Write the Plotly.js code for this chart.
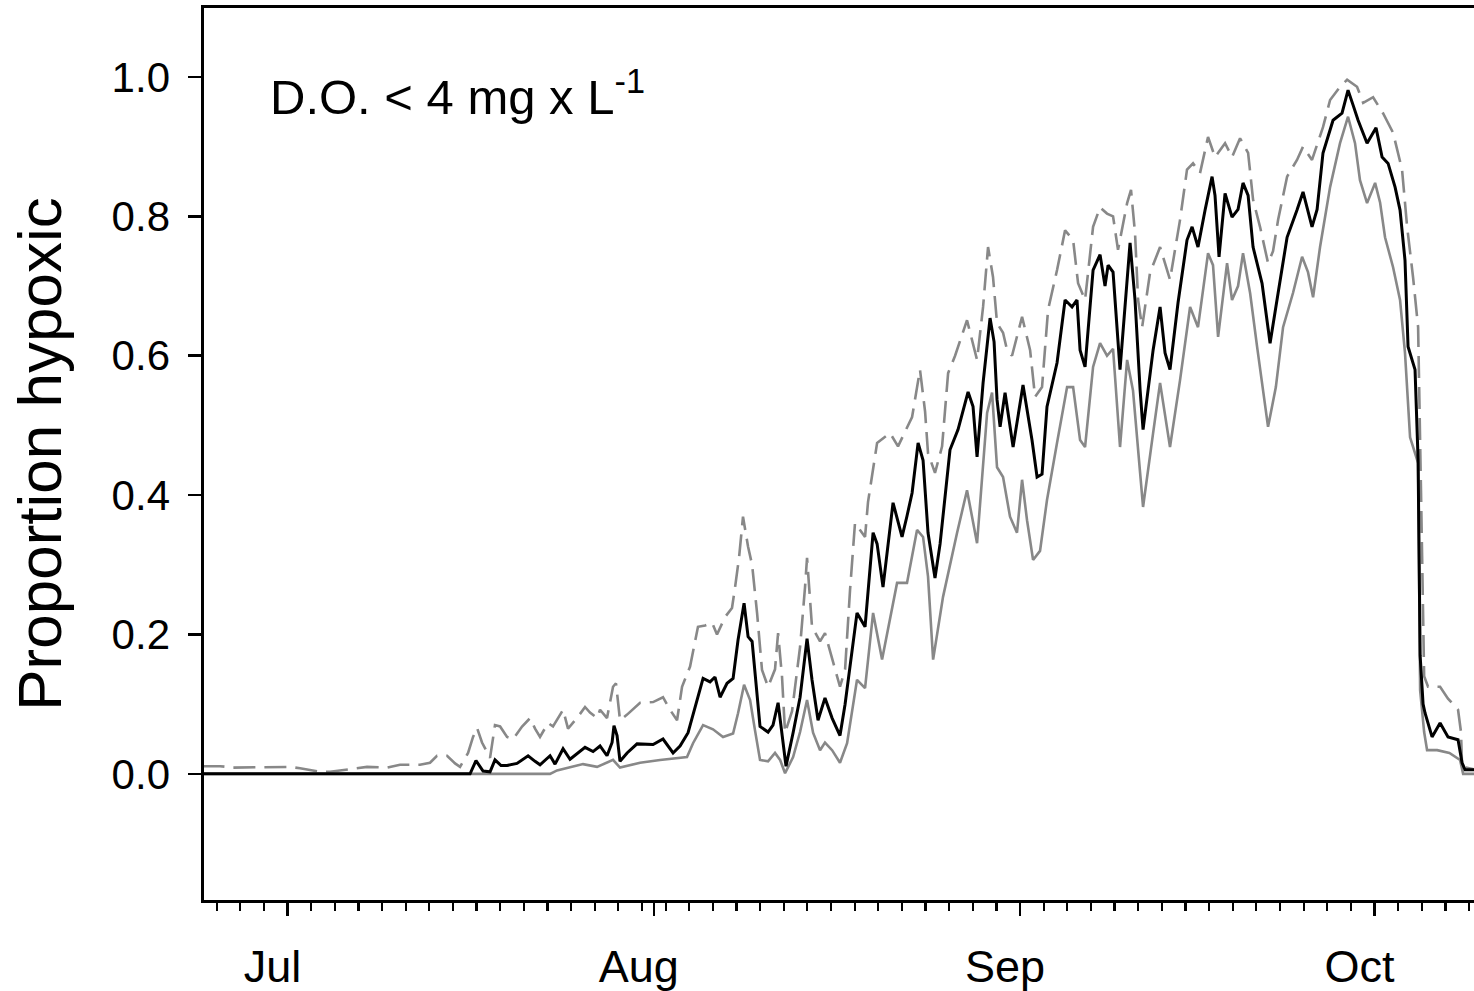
<!DOCTYPE html>
<html>
<head>
<meta charset="utf-8">
<script src="https://cdn.plot.ly/plotly-3.0.1.min.js"></script>
<style>html,body{margin:0;padding:0;background:#fff;}#chart{width:1474px;height:991px;}</style>
</head>
<body>
<div id="chart"></div>
<script>
// Days since 1 July (x) and proportion of sites hypoxic (y)
const monthDays = [0, 31, 62, 92];
const monthLabels = ['Jul', 'Aug', 'Sep', 'Oct'];
const yTicks = [0, 0.2, 0.4, 0.6, 0.8, 1.0];

const meanDay = [-7.2, 15.45, 15.95, 16.55, 17.14, 17.56, 18.07, 18.58, 19.42, 20.36, 20.95, 21.37, 22.22, 22.64, 23.32, 23.91, 25.18, 25.86, 26.45, 27.04, 27.47, 27.63, 27.89, 28.14, 28.74, 29.58, 30.94, 31.78, 32.63, 33.22, 33.9, 34.49, 35.17, 35.76, 36.18, 36.61, 37.2, 37.71, 38.13, 38.64, 38.98, 39.32, 39.99, 40.67, 41.09, 41.52, 41.85, 42.19, 42.79, 43.38, 43.97, 44.39, 44.9, 45.49, 46.09, 46.76, 47.19, 48.2, 48.88, 49.56, 49.9, 50.4, 51.25, 52.01, 52.43, 52.86, 53.37, 53.79, 54.21, 54.8, 55.23, 56.07, 56.75, 57.6, 58.02, 58.36, 58.87, 59.46, 59.8, 60.05, 60.31, 60.73, 61.41, 62.25, 63.01, 63.44, 63.86, 64.28, 65.13, 65.81, 66.4, 66.82, 67.08, 67.5, 68.18, 68.77, 69.19, 69.45, 69.87, 70.46, 71.31, 71.73, 72.16, 72.41, 73.26, 73.85, 74.27, 74.69, 75.37, 76.13, 76.56, 77.06, 77.66, 78.25, 78.5, 78.84, 79.35, 79.94, 80.45, 80.87, 81.3, 81.72, 82.48, 83.16, 83.84, 84.6, 85.44, 85.95, 86.71, 87.14, 87.64, 88.49, 89.25, 89.76, 90.18, 90.61, 91.37, 92.13, 92.64, 93.15, 93.74, 94.16, 94.58, 94.84, 95.43, 95.69, 95.86, 96.11, 96.28, 96.87, 97.55, 98.22, 99.07, 99.41, 99.66, 100.6];
const meanProp = [0, 0, 0.019, 0.004, 0.003, 0.02, 0.012, 0.012, 0.015, 0.026, 0.018, 0.013, 0.026, 0.014, 0.036, 0.021, 0.038, 0.032, 0.04, 0.026, 0.045, 0.069, 0.055, 0.018, 0.03, 0.043, 0.042, 0.05, 0.03, 0.04, 0.059, 0.096, 0.137, 0.132, 0.139, 0.11, 0.13, 0.137, 0.192, 0.245, 0.197, 0.19, 0.068, 0.06, 0.07, 0.102, 0.06, 0.011, 0.059, 0.11, 0.194, 0.135, 0.077, 0.109, 0.08, 0.055, 0.1, 0.231, 0.211, 0.346, 0.33, 0.268, 0.389, 0.34, 0.37, 0.403, 0.475, 0.45, 0.346, 0.281, 0.33, 0.465, 0.494, 0.548, 0.527, 0.455, 0.561, 0.654, 0.62, 0.537, 0.498, 0.547, 0.469, 0.558, 0.479, 0.426, 0.43, 0.527, 0.59, 0.68, 0.67, 0.68, 0.608, 0.584, 0.723, 0.745, 0.7, 0.73, 0.72, 0.58, 0.762, 0.68, 0.551, 0.494, 0.608, 0.67, 0.604, 0.58, 0.676, 0.766, 0.785, 0.756, 0.809, 0.857, 0.83, 0.742, 0.833, 0.799, 0.81, 0.848, 0.83, 0.756, 0.704, 0.618, 0.69, 0.77, 0.809, 0.835, 0.785, 0.81, 0.891, 0.938, 0.948, 0.981, 0.96, 0.938, 0.905, 0.927, 0.885, 0.876, 0.842, 0.809, 0.737, 0.613, 0.58, 0.45, 0.17, 0.1, 0.087, 0.053, 0.073, 0.053, 0.049, 0.016, 0.006, 0.006];

const lowerDay = [-7.2, 22.22, 22.81, 25.01, 26.2, 27.55, 28.14, 29.84, 31.53, 32.63, 33.81, 34.32, 35.17, 36.01, 36.86, 37.71, 38.13, 38.64, 39.15, 39.57, 39.99, 40.67, 41.26, 41.69, 42.11, 42.79, 43.38, 43.97, 44.48, 45.07, 45.49, 46.09, 46.76, 47.36, 48.2, 48.88, 49.56, 50.32, 51.0, 51.59, 52.43, 53.28, 53.79, 54.21, 54.64, 55.48, 56.67, 57.51, 58.36, 59.21, 59.63, 60.05, 60.56, 61.15, 61.74, 62.17, 62.59, 63.1, 63.69, 64.28, 65.13, 65.98, 66.49, 67.08, 67.5, 68.18, 68.77, 69.36, 69.87, 70.46, 71.06, 71.56, 72.16, 72.41, 73.26, 73.85, 74.69, 75.54, 76.39, 77.06, 77.91, 78.33, 78.76, 79.52, 79.94, 80.45, 80.87, 81.47, 82.06, 82.57, 82.99, 83.65, 84.26, 85.1, 85.87, 86.37, 86.8, 87.39, 88.24, 89.08, 89.76, 90.35, 90.77, 91.37, 92.05, 92.47, 92.89, 93.57, 94.16, 94.58, 95.01, 95.69, 95.86, 96.2, 96.45, 97.3, 98.34, 99.24, 99.5, 100.6];
const lowerProp = [0, 0, 0.005, 0.014, 0.01, 0.02, 0.009, 0.016, 0.02, 0.022, 0.024, 0.044, 0.07, 0.064, 0.053, 0.058, 0.087, 0.128, 0.106, 0.062, 0.02, 0.018, 0.03, 0.02, 0.001, 0.024, 0.06, 0.106, 0.059, 0.034, 0.045, 0.034, 0.016, 0.044, 0.135, 0.123, 0.231, 0.164, 0.221, 0.274, 0.274, 0.35, 0.34, 0.283, 0.164, 0.254, 0.346, 0.407, 0.331, 0.518, 0.547, 0.44, 0.426, 0.369, 0.346, 0.422, 0.364, 0.307, 0.32, 0.393, 0.475, 0.555, 0.555, 0.479, 0.469, 0.584, 0.618, 0.6, 0.61, 0.469, 0.594, 0.55, 0.432, 0.383, 0.489, 0.561, 0.469, 0.565, 0.67, 0.641, 0.747, 0.73, 0.627, 0.733, 0.68, 0.7, 0.747, 0.69, 0.613, 0.547, 0.498, 0.555, 0.641, 0.69, 0.742, 0.72, 0.684, 0.756, 0.842, 0.905, 0.943, 0.905, 0.852, 0.819, 0.848, 0.82, 0.77, 0.727, 0.68, 0.604, 0.483, 0.446, 0.12, 0.06, 0.034, 0.034, 0.03, 0.02, 0.0, 0.0];

const upperDay = [-7.2, -5.71, -4.61, -2.58, -1.74, 0.21, 1.06, 2.75, 3.6, 4.87, 6.14, 6.73, 8.42, 9.52, 11.21, 12.06, 12.65, 13.5, 14.18, 14.6, 15.28, 15.7, 16.04, 16.46, 17.14, 17.56, 17.99, 18.58, 19.09, 19.85, 20.53, 20.95, 21.37, 22.05, 22.47, 23.32, 23.74, 24.5, 25.18, 25.6, 26.2, 26.45, 27.04, 27.55, 27.8, 28.14, 28.74, 29.84, 30.94, 31.78, 32.37, 32.97, 33.39, 34.07, 34.74, 35.34, 35.93, 36.35, 37.03, 37.62, 37.88, 38.22, 38.55, 38.98, 39.32, 39.74, 40.16, 40.67, 41.26, 41.52, 41.85, 42.11, 42.7, 43.38, 43.8, 43.97, 44.39, 45.07, 45.49, 46.09, 46.76, 47.19, 47.61, 48.03, 48.88, 49.13, 49.9, 51.0, 51.67, 52.86, 53.53, 53.96, 54.21, 54.8, 55.4, 55.91, 56.5, 57.51, 57.94, 58.36, 58.87, 59.29, 59.71, 60.05, 60.56, 60.9, 61.32, 62.17, 62.85, 63.27, 63.86, 64.37, 65.13, 65.81, 66.49, 66.91, 67.5, 68.18, 68.77, 69.36, 69.87, 70.29, 71.06, 71.39, 71.73, 71.99, 72.33, 73.0, 73.85, 74.69, 75.54, 76.13, 76.64, 77.23, 77.91, 78.5, 79.35, 79.94, 80.62, 81.3, 81.72, 82.31, 82.99, 83.41, 83.84, 84.6, 85.44, 85.95, 86.71, 87.64, 88.24, 89.08, 89.68, 90.52, 91.04, 91.88, 92.72, 93.57, 94.33, 94.76, 95.26, 95.69, 95.94, 96.2, 96.53, 97.55, 98.22, 99.07, 99.32, 99.41, 100.6];
const upperProp = [0.011, 0.011, 0.009, 0.009, 0.01, 0.01, 0.008, 0.003, 0.003, 0.006, 0.008, 0.01, 0.009, 0.013, 0.013, 0.016, 0.026, 0.026, 0.015, 0.01, 0.03, 0.053, 0.066, 0.045, 0.023, 0.07, 0.068, 0.053, 0.05, 0.068, 0.08, 0.065, 0.053, 0.073, 0.068, 0.092, 0.065, 0.08, 0.096, 0.088, 0.08, 0.092, 0.08, 0.125, 0.13, 0.077, 0.085, 0.102, 0.103, 0.11, 0.092, 0.077, 0.125, 0.154, 0.211, 0.213, 0.217, 0.2, 0.225, 0.238, 0.268, 0.311, 0.369, 0.326, 0.3, 0.231, 0.149, 0.125, 0.15, 0.202, 0.14, 0.059, 0.09, 0.182, 0.268, 0.31, 0.211, 0.19, 0.202, 0.165, 0.125, 0.15, 0.264, 0.36, 0.34, 0.39, 0.475, 0.489, 0.47, 0.512, 0.58, 0.52, 0.46, 0.432, 0.47, 0.575, 0.6, 0.651, 0.623, 0.594, 0.67, 0.756, 0.713, 0.647, 0.633, 0.608, 0.6, 0.656, 0.608, 0.541, 0.555, 0.666, 0.723, 0.78, 0.766, 0.704, 0.68, 0.785, 0.813, 0.804, 0.8, 0.752, 0.819, 0.838, 0.776, 0.68, 0.641, 0.719, 0.756, 0.709, 0.795, 0.867, 0.876, 0.862, 0.914, 0.885, 0.905, 0.885, 0.912, 0.891, 0.824, 0.785, 0.733, 0.75, 0.795, 0.857, 0.881, 0.9, 0.881, 0.928, 0.967, 0.986, 0.996, 0.986, 0.963, 0.971, 0.948, 0.92, 0.867, 0.785, 0.713, 0.641, 0.4, 0.14, 0.125, 0.125, 0.108, 0.092, 0.06, 0.01, 0.006];

const FONT = 'Liberation Sans, Arial, Helvetica, sans-serif';
const GRAY = '#888888';

const traces = [
  {x: upperDay, y: upperProp, type: 'scatter', mode: 'lines', line: {color: GRAY, width: 2.6, dash: '22px,9px'}, hoverinfo: 'skip'},
  {x: lowerDay, y: lowerProp, type: 'scatter', mode: 'lines', line: {color: GRAY, width: 2.6}, hoverinfo: 'skip'},
  {x: meanDay, y: meanProp, type: 'scatter', mode: 'lines', line: {color: '#000', width: 3}, hoverinfo: 'skip'}
];

const layout = {
  width: 1474, height: 991,
  margin: {l: 204, r: 0, t: 8, b: 91, pad: 0},
  paper_bgcolor: '#fff', plot_bgcolor: '#fff',
  showlegend: false,
  font: {family: FONT, color: '#000'},
  xaxis: {
    range: [-7.07, 100.42],
    tickmode: 'array', tickvals: monthDays, ticktext: monthLabels,
    ticks: 'outside', ticklen: 13, tickwidth: 2.2, tickcolor: '#000',
    ticklabelshift: -15, ticklabelstandoff: 12,
    tickfont: {size: 45, family: FONT, color: '#000'},
    showline: true, linecolor: '#000', linewidth: 2.6, mirror: true,
    showgrid: false, zeroline: false,
    minor: {tickmode: 'linear', tick0: 0, dtick: 2, ticks: 'outside', ticklen: 8, tickwidth: 2.2, tickcolor: '#000', showgrid: false}
  },
  yaxis: {
    range: [-0.181, 1.099],
    tickmode: 'array', tickvals: yTicks, tickformat: '.1f',
    ticks: 'outside', ticklen: 13, tickwidth: 2.6, tickcolor: '#000',
    ticklabelstandoff: 10,
    tickfont: {size: 42, family: FONT, color: '#000'},
    showline: true, linecolor: '#000', linewidth: 2.6, mirror: false,
    showgrid: false, zeroline: false,
    title: {text: 'Proportion hypoxic', font: {size: 62, family: FONT, color: '#000'}, standoff: 30}
  },
  annotations: [{
    xref: 'paper', yref: 'paper', x: 0.05, y: 0.905, xanchor: 'left', yanchor: 'middle',
    text: 'D.O. < 4 mg x L<sup>-1</sup>', showarrow: false,
    font: {size: 49, family: FONT, color: '#000'}
  }]
};

Plotly.newPlot('chart', traces, layout, {staticPlot: true, displayModeBar: false});
</script>
</body>
</html>
